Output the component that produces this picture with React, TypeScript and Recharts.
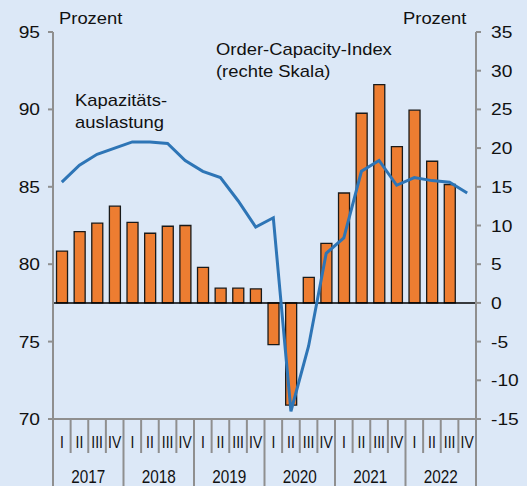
import { ComposedChart, Bar, Line, XAxis, YAxis, ReferenceLine } from "recharts";

const QUARTERS = ["I", "II", "III", "IV"];
const YEARS = ["2017", "2018", "2019", "2020", "2021", "2022"];

// Order-Capacity-Index (right scale), last quarter not yet available
const orderCapacity = [
  6.7, 9.2, 10.3, 12.5,
  10.4, 9.0, 9.9, 10.0,
  4.6, 1.9, 1.9, 1.8,
  -5.4, -13.2, 3.3, 7.7,
  14.2, 24.5, 28.2, 20.2,
  24.9, 18.3, 15.3, null,
];

// Kapazitätsauslastung (left scale)
const capacityUtil = [
  85.3, 86.4, 87.1, 87.5,
  87.9, 87.9, 87.8, 86.7,
  86.0, 85.6, 84.1, 82.4,
  83.0, 70.5, 74.7, 80.7,
  81.7, 86.0, 86.7, 85.1,
  85.6, 85.4, 85.3, 84.6,
];

const leftTicks = [70, 75, 80, 85, 90, 95];
const rightTicks = [-15, -10, -5, 0, 5, 10, 15, 20, 25, 30, 35];

const data = YEARS.flatMap((year, yi) =>
  QUARTERS.map((q, qi) => ({
    key: `${year} ${q}`,
    year,
    q,
    qi,
    oci: orderCapacity[yi * 4 + qi],
    cu: capacityUtil[yi * 4 + qi],
  }))
);

const W = 527;
const H = 486;
const LEFT_W = 53;
const RIGHT_W = 51;
const TOP = 32;
const X_H = 67;
const PLOT_W = W - LEFT_W - RIGHT_W;
const BAND = PLOT_W / data.length;

const FONT = "'Liberation Sans', Arial, sans-serif";
const AXIS_GREY = "#8f8f8f";
const BG = "#dce8f7";

function Txt({ x, y, size = 16, sx = 1.15, anchor = "start", children }: any) {
  return (
    <text
      transform={`translate(${x},${y}) scale(${sx},1)`}
      fontFamily={FONT}
      fontSize={size}
      fill="#111"
      textAnchor={anchor}
    >
      {children}
    </text>
  );
}

function QuarterTick(props: any) {
  const { x, y, index, payload } = props;
  const d = data[index] ?? data.find((r) => r.key === payload.value);
  if (!d) return null;
  const left = x - BAND / 2;
  return (
    <g>
      <line x1={left} x2={left} y1={y} y2={y + (d.qi === 0 ? X_H : 34)} stroke={AXIS_GREY} strokeWidth={2} />
      {index === data.length - 1 && (
        <line x1={x + BAND / 2} x2={x + BAND / 2} y1={y} y2={y + X_H} stroke={AXIS_GREY} strokeWidth={2} />
      )}
      <Txt x={x} y={y + 29} size={17} sx={0.82} anchor="middle">{d.q}</Txt>
      {d.qi === 1 && (
        <Txt x={x + BAND / 2} y={y + 64} size={18} sx={0.85} anchor="middle">{d.year}</Txt>
      )}
    </g>
  );
}

function LeftTick(props: any) {
  const { x, y, payload } = props;
  return <Txt x={x} y={y + 6} size={16} sx={1.2} anchor="end">{payload.value}</Txt>;
}

function RightTick(props: any) {
  const { x, y, payload } = props;
  return <Txt x={x} y={y + 6} size={16} sx={1.2} anchor="start">{payload.value}</Txt>;
}

export default function App() {
  return (
    <div style={{ position: "absolute", left: 0, top: 0, width: W, height: H, background: BG }}>
      <ComposedChart
        width={W}
        height={H}
        data={data}
        margin={{ top: TOP, right: 0, bottom: 0, left: 0 }}
        barCategoryGap="20%"
      >
        <XAxis
          dataKey="key"
          height={X_H}
          interval={0}
          tickSize={0}
          tickMargin={0}
          tickLine={false}
          axisLine={{ stroke: AXIS_GREY, strokeWidth: 2 }}
          tick={<QuarterTick />}
        />
        <YAxis
          yAxisId="left"
          orientation="left"
          width={LEFT_W}
          domain={[70, 95]}
          ticks={leftTicks}
          interval={0}
          tickSize={5}
          tickMargin={8}
          axisLine={{ stroke: AXIS_GREY, strokeWidth: 2 }}
          tickLine={{ stroke: AXIS_GREY, strokeWidth: 2 }}
          tick={<LeftTick />}
        />
        <YAxis
          yAxisId="right"
          orientation="right"
          width={RIGHT_W}
          domain={[-15, 35]}
          ticks={rightTicks}
          interval={0}
          tickSize={5}
          tickMargin={10}
          axisLine={{ stroke: AXIS_GREY, strokeWidth: 2 }}
          tickLine={{ stroke: AXIS_GREY, strokeWidth: 2 }}
          tick={<RightTick />}
        />
        <Bar
          yAxisId="right"
          dataKey="oci"
          fill="#ed7d31"
          stroke="#1a1a1a"
          strokeWidth={1.3}
          isAnimationActive={false}
        />
        <ReferenceLine yAxisId="right" y={0} stroke="#000" strokeWidth={1.5} />
        <Line
          yAxisId="left"
          dataKey="cu"
          type="linear"
          stroke="#2e75b6"
          strokeWidth={3}
          dot={false}
          activeDot={false}
          isAnimationActive={false}
        />
      </ComposedChart>
      <svg
        width={W}
        height={H}
        style={{ position: "absolute", left: 0, top: 0, pointerEvents: "none" }}
      >
        <Txt x={59} y={24}>Prozent</Txt>
        <Txt x={403} y={24}>Prozent</Txt>
        <Txt x={216} y={55}>Order-Capacity-Index</Txt>
        <Txt x={216} y={77}>(rechte Skala)</Txt>
        <Txt x={75} y={106}>Kapazitäts-</Txt>
        <Txt x={75} y={128}>auslastung</Txt>
      </svg>
    </div>
  );
}
